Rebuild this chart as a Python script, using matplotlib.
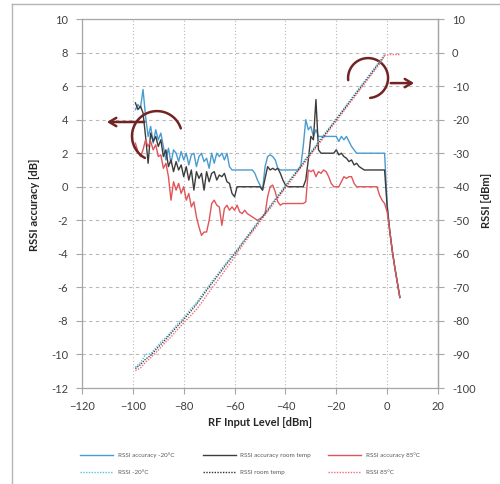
import numpy as np
import matplotlib
matplotlib.use('Agg')
import matplotlib.pyplot as plt
from matplotlib.lines import Line2D

plt.rcParams['font.family'] = ['Lato', 'DejaVu Sans']
plt.rcParams['axes.unicode_minus'] = False

# RF input level, 1 dB steps, for the accuracy curves
acc_x = np.arange(-99, 6)

# RSSI accuracy [dB] at -20C, room temp, 85C  (rows of 10 starting at -99, -89, ...)
acc_m20 = [4.6, 4.9, 4.7, 5.8, 4.2, 3.0, 3.6, 2.6, 3.4, 2.8,
           3.2, 2.4, 1.6, 2.3, 1.4, 2.2, 2.0, 1.5, 2.1, 1.6,
           2.0, 1.3, 1.9, 2.0, 1.2, 1.8, 2.0, 1.5, 1.7, 1.1,
           2.0, 1.4, 2.0, 1.8, 2.0, 1.6, 2.0, 1.2, 1.0, 1.0,
           1.0, 1.0, 1.0, 1.0, 1.0, 1.0, 1.0, 0.8, 0.4, 0.1,
           -0.2, 1.2, 1.8, 1.9, 1.8, 1.6, 1.1, 1.0, 1.0, 1.0,
           1.0, 1.0, 1.0, 1.0, 1.0, 1.2, 2.4, 4.0, 3.4, 3.6,
           3.0, 3.4, 3.0, 3.0, 3.0, 3.0, 3.0, 3.0, 3.0, 3.0,
           2.7, 3.0, 2.8, 3.0, 2.7, 2.4, 2.2, 2.0, 2.0, 2.0,
           2.0, 2.0, 2.0, 2.0, 2.0, 2.0, 2.0, 2.0, 2.0, -1.0,
           -2.6, -3.8, -4.8, -5.7, -6.6]
acc_room = [5.0, 4.6, 4.8, 4.4, 3.0, 1.4, 3.2, 2.7, 3.0, 2.4,
            2.8, 1.8, 2.2, 1.2, 1.6, 0.9, 1.5, 1.0, 1.3, 0.6,
            1.2, 0.4, 1.0, -0.2, 0.9, 0.5, 0.8, -0.2, 0.9, 0.3,
            0.8, 0.9, 0.4, 0.7, 0.6, 0.8, 0.3, 0.2, -0.4, -0.6,
            0.0, 0.0, 0.0, 0.0, 0.0, 0.0, 0.0, 0.0, 0.0, 0.0,
            -0.2, 0.5, 1.2, 1.0, 1.1, 1.0, 1.1, 0.8, 0.4, 0.1,
            0.0, 0.0, 0.0, 0.0, 0.0, 0.0, 0.0, 0.4, 1.6, 3.0,
            2.8, 5.2, 2.2, 2.0, 2.0, 2.0, 2.0, 2.0, 2.0, 2.2,
            1.9, 2.0, 1.8, 1.7, 1.5, 1.6, 1.3, 1.4, 1.2, 1.1,
            1.0, 1.0, 1.0, 1.0, 1.0, 1.0, 1.0, 1.0, 1.0, -1.2,
            -2.6, -3.8, -4.8, -5.7, -6.6]
acc_85 = [2.6, 2.1, 1.8, 2.2, 2.8, 2.4, 2.7, 2.2, 2.5, 1.8,
          1.9, 1.1, 1.4, 0.6, -0.8, 0.3, -0.2, 0.2, -0.4, 0.0,
          -0.8, -0.4, -1.2, -0.9, -1.8, -2.4, -2.9, -2.7, -2.7, -2.0,
          -1.0, -0.8, -1.1, -1.2, -2.3, -1.3, -1.1, -1.4, -1.2, -1.4,
          -1.1, -1.5, -1.6, -1.4, -1.6, -1.7, -1.8, -1.9, -2.0, -1.9,
          -1.8, -1.6, -0.6, 0.0, 0.1, -0.3, -0.9, -1.1, -1.0, -1.0,
          -1.0, -1.0, -1.0, -1.0, -1.0, -1.0, -1.0, -0.9, 1.0, 0.9,
          1.0, 0.6, 0.9, 0.8, 1.0, 0.9, 0.6, 0.2, 0.0, 0.0,
          0.0, 0.3, 0.6, 0.5, 0.6, 0.6, 0.2, 0.0, 0.0, 0.0,
          0.0, 0.0, 0.0, 0.0, 0.0, 0.0, -0.5, -0.8, -1.0, -1.5,
          -2.6, -3.8, -4.8, -5.7, -6.6]

# measured RSSI [dBm], 2 dB steps
rssi_x = np.arange(-99, 0, 2)
rssi_x85 = np.arange(-99, 6, 2)
rssi_m20 = [-93.8, -92.4, -90.0, -89.8, -88.0, -86.3, -84.9, -83.2, -81.4, -79.8,
            -78.1, -76.2, -74.6, -72.4, -70.4, -68.3, -66.4, -64.3, -62.4, -60.6,
            -58.7, -56.6, -54.6, -52.6, -50.6, -48.7, -46.6, -44.6, -42.6, -40.6,
            -38.6, -36.6, -34.6, -32.6, -30.6, -28.6, -26.6, -24.6, -22.6, -20.6,
            -18.6, -16.6, -14.6, -12.6, -10.6, -8.6, -6.6, -4.6, -2.6, -0.6]
rssi_room = [-94.2, -93.0, -91.4, -90.3, -88.6, -87.0, -85.4, -83.7, -82.0, -80.4,
             -78.7, -76.9, -75.1, -73.0, -70.9, -68.9, -66.9, -64.9, -62.9, -61.0,
             -59.1, -57.0, -55.0, -53.0, -51.0, -49.0, -47.0, -45.0, -43.0, -41.0,
             -39.0, -37.0, -35.0, -33.0, -31.0, -29.0, -27.0, -25.0, -23.0, -21.0,
             -19.0, -17.0, -15.0, -13.0, -11.0, -9.0, -7.0, -5.0, -3.0, -1.0]
rssi_85 = [-94.8, -94.0, -92.3, -91.0, -89.5, -87.9, -86.2, -84.8, -83.0, -81.4,
           -79.8, -78.2, -76.6, -74.6, -72.4, -70.3, -68.3, -66.2, -64.1, -62.1,
           -59.7, -57.6, -55.5, -53.5, -51.5, -49.4, -47.4, -45.4, -43.4, -41.4,
           -39.4, -37.4, -35.4, -33.4, -31.4, -29.4, -27.4, -25.4, -23.4, -21.4,
           -19.4, -17.4, -15.4, -13.4, -11.4, -9.4, -7.4, -5.4, -3.4, -0.8,
           -0.6, -0.6, -0.6]

x_ticks = [-120, -100, -80, -60, -40, -20, 0, 20]
x_labels = ['\u2212120', '\u2212100', '\u221280', '\u221260', '\u221240', '\u221220', '0', '20']
acc_ticks = list(range(-12, 11, 2))
rssi_ticks = list(range(-100, 11, 10))

c_m20, c_room, c_85 = '#4a9bd0', '#3c3c3c', '#e0555a'
c_rm20, c_rroom, c_r85 = '#5cc0dc', '#303030', '#e8707a'
arrow_c = '#722424'
frame_c = '#a6a6a6'
txt_c = '#404040'

fig = plt.figure(figsize=(5, 4.84), dpi=100)
ax = fig.add_axes([0.164, 0.1983, 0.712, 0.7624])
ax2 = ax.twinx()

ax.plot(acc_x, acc_m20, color=c_m20, lw=1.0)
ax.plot(acc_x, acc_room, color=c_room, lw=1.0)
ax.plot(acc_x, acc_85, color=c_85, lw=1.0)
ax2.plot(rssi_x, rssi_m20, color=c_rm20, lw=1.0, ls=(0, (1, 1)))
ax2.plot(rssi_x, rssi_room, color=c_rroom, lw=0.9, ls=(0, (1, 1)))
ax2.plot(rssi_x85, rssi_85, color=c_r85, lw=1.0, ls=(0, (1, 1)))

ax.set_xlim(-120, 20)
ax.set_ylim(-12, 10)
ax2.set_ylim(-100, 10)
ax.set_xticks(x_ticks)
ax.set_xticklabels(x_labels)
ax.set_yticks(acc_ticks)
ax2.set_yticks(rssi_ticks)

ax.grid(axis='y', ls=(0, (3, 3)), color='#b8b8b8', lw=0.8)
ax.grid(axis='x', ls=(0, (1, 2)), color='#b8b8b8', lw=0.8)
ax.set_axisbelow(True)

for a in (ax, ax2):
    for s in a.spines.values():
        s.set_color(frame_c)
        s.set_linewidth(0.9)
    a.tick_params(colors=frame_c, labelcolor=txt_c, labelsize=8, length=4, width=0.8)
ax2.spines['left'].set_visible(False)
ax2.spines['bottom'].set_visible(False)
ax2.spines['top'].set_visible(False)
ax.tick_params(axis='y', pad=6)
ax2.tick_params(axis='y', pad=6)
ax.tick_params(axis='x', pad=5)

fig.text(35 / 500, 1 - 205 / 484, 'RSSI accuracy [dB]', rotation=90, ha='center', va='center',
         fontsize=8, fontweight='bold', color='#262626')
fig.text(487 / 500, 1 - 200 / 484, 'RSSI [dBm]', rotation=90, ha='center', va='center',
         fontsize=8, fontweight='bold', color='#262626')
fig.text(260 / 500, 1 - 423 / 484, 'RF Input Level [dBm]', ha='center', va='center',
         fontsize=8, fontweight='bold', color='#262626')

# curled arrows pointing to each axis
t = np.radians(np.linspace(18, 241, 80))
ax.plot(-90.5 + 9.83 * np.cos(t), 3.02 + 1.49 * np.sin(t), color=arrow_c, lw=1.8,
        solid_capstyle='round', zorder=5)
ax.annotate('', xy=(-111.3, 3.86), xytext=(-94.4, 3.86),
            arrowprops=dict(arrowstyle='->,head_length=0.5,head_width=0.3', color=arrow_c, lw=1.8),
            zorder=5)
t = np.radians(np.linspace(-84, 186, 80))
ax.plot(-7.5 + 7.86 * np.cos(t), 6.48 + 1.19 * np.sin(t), color=arrow_c, lw=1.8,
        solid_capstyle='round', zorder=5, clip_on=False)
ax.annotate('', xy=(11.7, 6.18), xytext=(0.3, 6.18),
            arrowprops=dict(arrowstyle='->,head_length=0.5,head_width=0.3', color=arrow_c, lw=1.8),
            zorder=5, annotation_clip=False)

# outer chart frame
fig.add_artist(Line2D([12 / 500, 12 / 500], [0, 1 - 4 / 484], transform=fig.transFigure,
                      color='#b4b4b4', lw=1.0))
fig.add_artist(Line2D([12 / 500, 1], [1 - 4 / 484, 1 - 4 / 484], transform=fig.transFigure,
                      color='#b4b4b4', lw=1.0))

# legend: three columns, two rows
cols = [
    [(c_m20, '-', 'RSSI accuracy -20°C'), (c_rm20, (0, (1, 1)), 'RSSI -20°C')],
    [(c_room, '-', 'RSSI accuracy room temp'), (c_rroom, (0, (1, 1)), 'RSSI room temp')],
    [(c_85, '-', 'RSSI accuracy 85°C'), (c_r85, (0, (1, 1)), 'RSSI 85°C')],
]
col_x = [80, 203, 328]
for xs, entries in zip(col_x, cols):
    handles = [Line2D([], [], color=c, ls=ls, lw=1.0) for c, ls, _ in entries]
    labels = [lab for _, _, lab in entries]
    leg = fig.legend(handles, labels, loc='center left', bbox_to_anchor=(xs / 500, 1 - 464 / 484),
                     frameon=False, fontsize=4.5, handlelength=5.2, handletextpad=0.8,
                     labelspacing=1.9, borderpad=0, borderaxespad=0)
    for tx in leg.get_texts():
        tx.set_color('#595959')

fig.savefig('out.png', dpi=100)
